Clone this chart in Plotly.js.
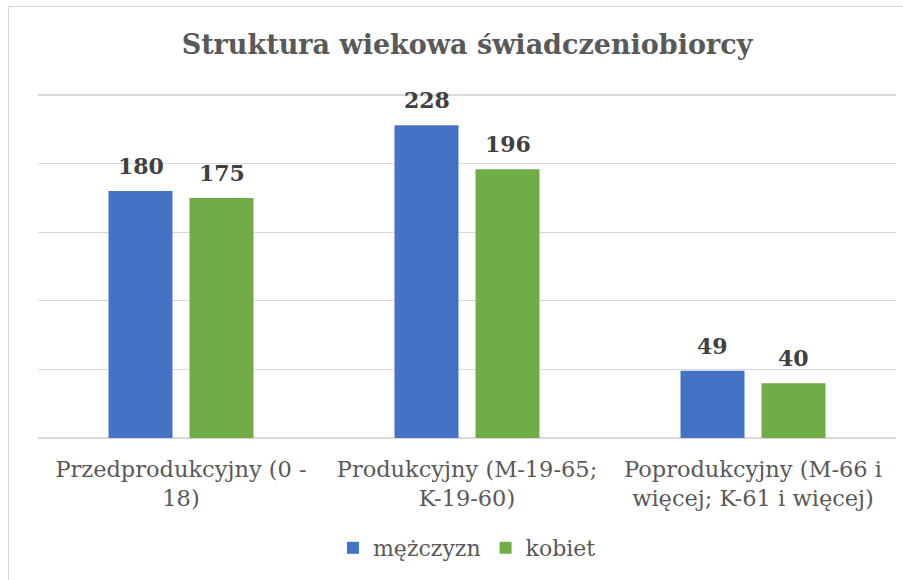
<!DOCTYPE html>
<html>
<head>
<meta charset="utf-8">
<script src="https://cdn.plot.ly/plotly-3.0.1.min.js"></script>
<style>
body{margin:0;padding:0;background:#fff;overflow:hidden;}
#chart{position:absolute;left:0;top:0;width:903px;height:580px;}
#frame{position:absolute;left:8px;top:6px;width:1000px;height:1000px;border:1px solid #D9D9D9;pointer-events:none;}
</style>
</head>
<body>
<div id="chart"></div>
<div id="frame"></div>
<script>
const categories = ["Przedprodukcyjny (0 -<br>18)", "Produkcyjny (M-19-65;<br>K-19-60)", "Poprodukcyjny (M-66 i<br>więcej; K-61 i więcej)"];
const seriesNames = ["mężczyzn", "kobiet"];
const men = [180, 228, 49];
const women = [175, 196, 40];
const colors = ["#4472C4", "#70AD47"];

const series = [men, women];
const traces = series.map((vals, i) => ({
  type: "bar",
  name: seriesNames[i],
  x: categories,
  y: vals,
  marker: {color: colors[i]},
  hoverinfo: "none"
}));

const annotations = [];
series.forEach((vals, i) => {
  vals.forEach((v, j) => {
    annotations.push({
      x: categories[j], y: v, xref: "x", yref: "y",
      text: String(v), showarrow: false,
      xshift: i === 0 ? -40.5 : 40.5,
      yshift: 25, yanchor: "middle",
      font: {family: "DejaVu Serif", size: 22, color: "#404040", weight: "bold"}
    });
  });
});

const layout = {
  width: 903, height: 580,
  margin: {l: 38, r: 7, t: 93, b: 142},
  paper_bgcolor: "rgba(0,0,0,0)",
  plot_bgcolor: "#fff",
  title: {
    text: "<b>Struktura wiekowa świadczeniobiorcy</b>",
    font: {family: "DejaVu Serif", size: 27, color: "#595959"},
    xref: "paper", x: 0.5, xanchor: "center",
    yref: "container", y: 1 - 45/580, yanchor: "middle"
  },
  barmode: "group",
  bargap: 0.4336,
  bargroupgap: 0.21,
  xaxis: {
    showline: false, showgrid: false,
    ticks: "outside", ticklen: 11, tickcolor: "rgba(0,0,0,0)",
    tickfont: {family: "DejaVu Serif", size: 22.5, color: "#595959"}
  },
  yaxis: {
    range: [0, 251.5], dtick: 50,
    showticklabels: false,
    gridcolor: "#D9D9D9", gridwidth: 1.3,
    zeroline: true, zerolinecolor: "#D9D9D9", zerolinewidth: 1.3,
    fixedrange: true
  },
  showlegend: true,
  legend: {
    orientation: "h", x: 0.5, xanchor: "center", xref: "paper",
    y: (438 - 548) / 345, yanchor: "middle",
    font: {family: "DejaVu Serif", size: 22, color: "#595959"},
    itemwidth: 30
  },
  annotations: annotations
};

Plotly.newPlot("chart", traces, layout, {displayModeBar: false, staticPlot: true});
</script>
</body>
</html>
